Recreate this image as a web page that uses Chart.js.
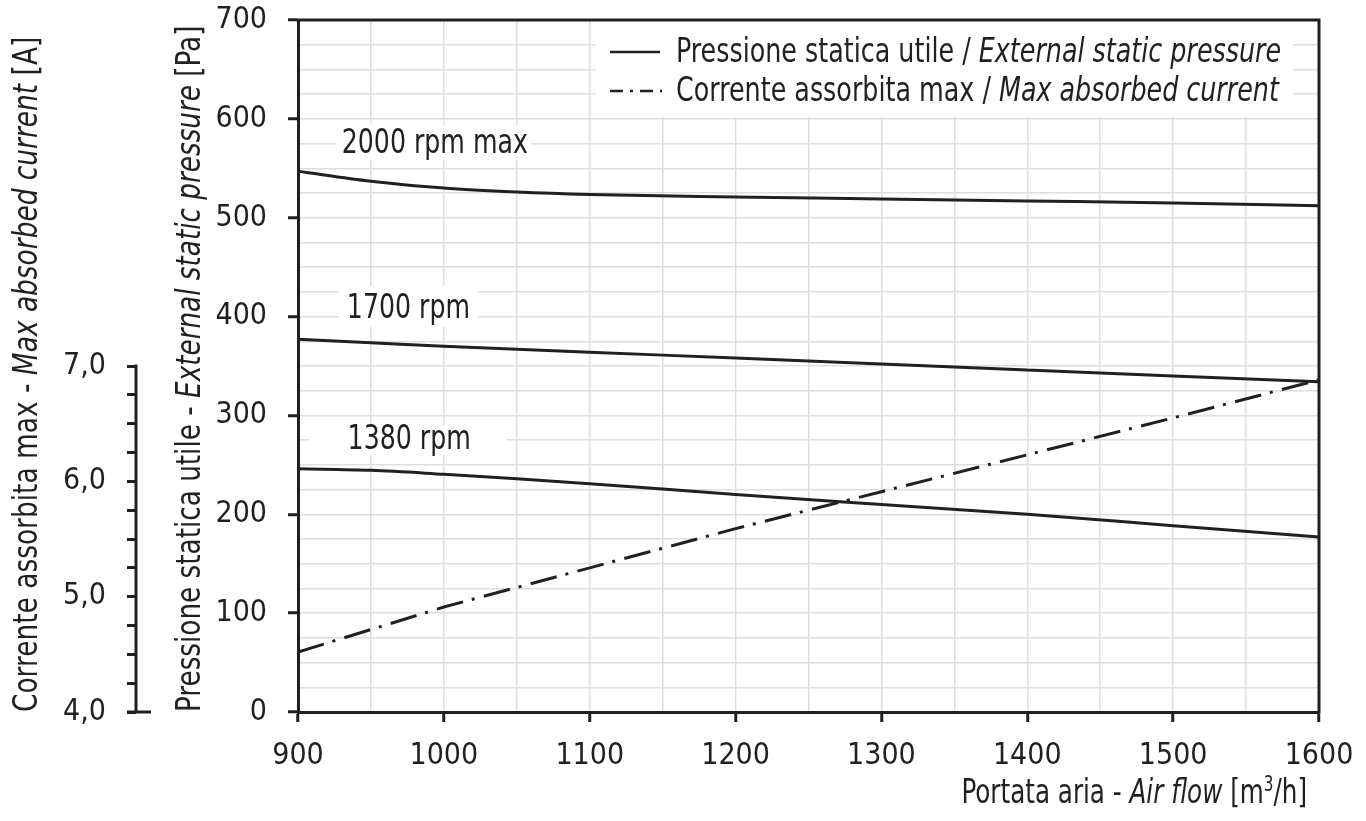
<!DOCTYPE html>
<html>
<head>
<meta charset="utf-8">
<title>Pressione statica utile / Corrente assorbita</title>
<script src="https://cdn.jsdelivr.net/npm/chart.js@4.4.1/dist/chart.umd.min.js"></script>
<style>
  html, body { margin: 0; padding: 0; background: #fff; }
  #wrap { width: 1366px; height: 821px; position: relative; }
</style>
</head>
<body>
<div id="wrap"><canvas id="grafico"></canvas></div>
<script>
// portata aria [m3/h]
const portata = [900, 950, 1000, 1050, 1100, 1200, 1300, 1400, 1500, 1600];
// pressione statica utile [Pa] per velocità
const press2000 = [547, 537, 530, 526, 523.5, 521, 519, 517, 515, 512];
const press1700 = [377, 373.5, 370, 367, 364, 358, 352, 346, 340, 334];
const press1380 = [246, 244.5, 240.5, 236, 231, 220, 210, 200, 188.5, 177];
// corrente assorbita max [A]
const portataCorrente = [900, 1000, 1100, 1200, 1300, 1400, 1500, 1600];
const corrente = [4.52, 4.91, 5.25, 5.59, 5.91, 6.23, 6.55, 6.88];

const nomiCurve = ['2000 rpm max', '1700 rpm', '1380 rpm'];
const voceLegenda1 = [['Pressione statica utile / ', false], ['External static pressure', true]];
const voceLegenda2 = [['Corrente assorbita max / ', false], ['Max absorbed current', true]];
const titoloX = [['Portata aria - ', false], ['Air flow', true], [' [m', false], ['3', false, true], ['/h]', false]];
const titoloY = [['Pressione statica utile - ', false], ['External static pressure', true], [' [Pa]', false]];
const titoloCorrente = [['Corrente assorbita max - ', false], ['Max absorbed current', true], [' [A]', false]];

const NERO = '#231f20';
const GRIGLIA = '#dedede';
const FONT = '"Liberation Sans Narrow", "DejaVu Sans Condensed", "DejaVu Sans", sans-serif';
const SIZE = 33;      // testi disegnati a mano
const SIZE_TICK = 30;

function font(size, italic) {
  return (italic ? 'italic ' : '') + size + 'px ' + FONT;
}

// k = compressione orizzontale del testo
function larghezzaRicca(ctx, parti, size, k) {
  let w = 0;
  for (const p of parti) {
    ctx.font = font(p[2] ? size * 0.62 : size, p[1]);
    w += ctx.measureText(p[0]).width * k;
  }
  return w;
}

function scriviRicco(ctx, parti, x, y, size, k) {
  for (const p of parti) {
    const s = p[2] ? size * 0.62 : size;
    ctx.font = font(s, p[1]);
    ctx.save();
    ctx.translate(x, p[2] ? y - size * 0.36 : y);
    ctx.scale(k, 1);
    ctx.fillText(p[0], 0, 0);
    ctx.restore();
    x += ctx.measureText(p[0]).width * k;
  }
}

const punti = (xs, ys) => xs.map((x, i) => ({ x: x, y: ys[i] }));

// le etichette dei tick non devono spostare l'area del grafico
function senzaMargini(s) {
  s.paddingTop = 0; s.paddingBottom = 0; s.paddingLeft = 0; s.paddingRight = 0;
}

// etichette delle curve, ancorate ai valori (portata, pressione della linea di base)
const etichette = [
  { testo: nomiCurve[0], x: 930, y: 565.5, sx: 5, dx: 3, su: 28, giu: 7 },
  { testo: nomiCurve[1], x: 933.5, y: 398.6, sx: 8, dx: 8, su: 32, giu: 9 },
  { testo: nomiCurve[2], x: 934, y: 266, sx: 38, dx: 36, su: 24, giu: 6 }
];

const disegniExtra = {
  id: 'disegniExtra',
  beforeDatasetsDraw(chart) {
    const { ctx, scales: { x, y } } = chart;
    ctx.save();
    // riquadro bianco della legenda
    ctx.fillStyle = '#fff';
    ctx.fillRect(596, chart.chartArea.top + 2, 697, 95);
    // etichette rpm con sfondo bianco
    ctx.textBaseline = 'alphabetic';
    ctx.textAlign = 'left';
    for (const e of etichette) {
      const px = x.getPixelForValue(e.x);
      const py = y.getPixelForValue(e.y);
      const w = larghezzaRicca(ctx, [[e.testo, false]], SIZE, 0.85);
      ctx.fillStyle = '#fff';
      ctx.fillRect(px - e.sx, py - e.su, w + e.sx + e.dx, e.su + e.giu);
      ctx.fillStyle = NERO;
      scriviRicco(ctx, [[e.testo, false]], px, py, SIZE, 0.85);
    }
    // legenda
    ctx.strokeStyle = NERO;
    ctx.lineWidth = 2.5;
    ctx.beginPath();
    ctx.moveTo(610, 52); ctx.lineTo(660, 52);
    ctx.stroke();
    ctx.setLineDash([13, 7, 3, 7]);
    ctx.beginPath();
    ctx.moveTo(610, 91); ctx.lineTo(662, 91);
    ctx.stroke();
    ctx.setLineDash([]);
    ctx.fillStyle = NERO;
    scriviRicco(ctx, voceLegenda1, 676, 62, SIZE, 0.855);
    scriviRicco(ctx, voceLegenda2, 676, 101, SIZE, 0.855);
    ctx.restore();
  },
  afterDatasetsDraw(chart) {
    const { ctx, chartArea: a, scales: { y, yA } } = chart;
    ctx.save();
    ctx.strokeStyle = NERO;
    ctx.lineWidth = 3;
    ctx.lineCap = 'square';
    // cornice del grafico
    ctx.beginPath();
    ctx.moveTo(a.left, a.top); ctx.lineTo(a.right, a.top); ctx.lineTo(a.right, a.bottom);
    ctx.stroke();
    // asse della corrente, solo da 4,0 a 7,0
    const xa = yA.right;
    ctx.lineCap = 'butt';
    ctx.beginPath();
    ctx.moveTo(xa, yA.getPixelForValue(7) - 1.5);
    ctx.lineTo(xa, yA.getPixelForValue(4));
    ctx.moveTo(xa - 9, yA.getPixelForValue(4));
    ctx.lineTo(xa + 15, yA.getPixelForValue(4));
    ctx.stroke();
    // titoli degli assi
    ctx.fillStyle = NERO;
    ctx.textBaseline = 'alphabetic';
    ctx.textAlign = 'left';
    const wx = larghezzaRicca(ctx, titoloX, SIZE, 0.83);
    scriviRicco(ctx, titoloX, 1307 - wx, 803, SIZE, 0.83);
    ctx.save();
    ctx.translate(y.left + 64, a.bottom);
    ctx.rotate(-Math.PI / 2);
    scriviRicco(ctx, titoloY, 0, 0, SIZE, 0.885);
    ctx.restore();
    ctx.save();
    ctx.translate(yA.left + 37, a.bottom);
    ctx.rotate(-Math.PI / 2);
    scriviRicco(ctx, titoloCorrente, 0, 0, SIZE, 0.89);
    ctx.restore();
    ctx.restore();
  }
};

Chart.defaults.font.family = FONT;
Chart.defaults.font.size = SIZE_TICK;
Chart.defaults.color = NERO;

const tickColor = ctx => (ctx.tick && ctx.tick.value % 100 === 0 ? NERO : 'rgba(0,0,0,0)');

new Chart(document.getElementById('grafico'), {
  type: 'line',
  data: {
    datasets: [
      { label: nomiCurve[0], data: punti(portata, press2000), yAxisID: 'y' },
      { label: nomiCurve[1], data: punti(portata, press1700), yAxisID: 'y' },
      { label: nomiCurve[2], data: punti(portata, press1380), yAxisID: 'y' },
      {
        label: 'Corrente assorbita max', data: punti(portataCorrente, corrente), yAxisID: 'yA',
        borderDash: [27, 9, 3, 9.5], tension: 0, cubicInterpolationMode: 'default'
      }
    ]
  },
  options: {
    responsive: true,
    maintainAspectRatio: false,
    animation: false,
    layout: { autoPadding: false, padding: { top: 20, right: 47, left: 0, bottom: 0 } },
    elements: {
      point: { radius: 0 },
      line: { borderColor: NERO, borderWidth: 3, cubicInterpolationMode: 'monotone', fill: false }
    },
    plugins: { legend: { display: false }, tooltip: { enabled: false } },
    scales: {
      x: {
        type: 'linear', position: 'bottom', min: 900, max: 1600,
        afterFit: s => { s.height = 109; senzaMargini(s); },
        ticks: {
          stepSize: 50, autoSkip: false, maxRotation: 0, padding: 16,
          callback: v => (v % 100 === 0 ? String(v) : '')
        },
        grid: { color: GRIGLIA, lineWidth: 1.5, tickLength: 10, tickWidth: 3, tickColor: tickColor },
        border: { display: true, color: NERO, width: 3 }
      },
      y: {
        type: 'linear', position: 'left', min: 0, max: 700, weight: 0,
        afterFit: s => { s.width = 162; senzaMargini(s); },
        ticks: {
          stepSize: 25, autoSkip: false, padding: 21,
          callback: v => (v % 100 === 0 ? String(v) : '')
        },
        grid: { color: GRIGLIA, lineWidth: 1.5, tickLength: 10, tickWidth: 3, tickColor: tickColor },
        border: { display: true, color: NERO, width: 3 }
      },
      yA: {
        type: 'linear', position: 'left', min: 4, max: 10, weight: 1,
        afterFit: s => { s.width = 136; senzaMargini(s); },
        afterBuildTicks: s => { s.ticks = s.ticks.filter(t => t.value <= 7.0001); },
        ticks: {
          stepSize: 0.25, autoSkip: false, padding: 21,
          callback: v => (Math.abs(v - Math.round(v)) < 1e-6 ? v.toFixed(1).replace('.', ',') : '')
        },
        grid: { drawOnChartArea: false, tickLength: 9, tickWidth: 3, tickColor: NERO },
        border: { display: false }
      }
    }
  },
  plugins: [disegniExtra]
});
</script>
</body>
</html>
